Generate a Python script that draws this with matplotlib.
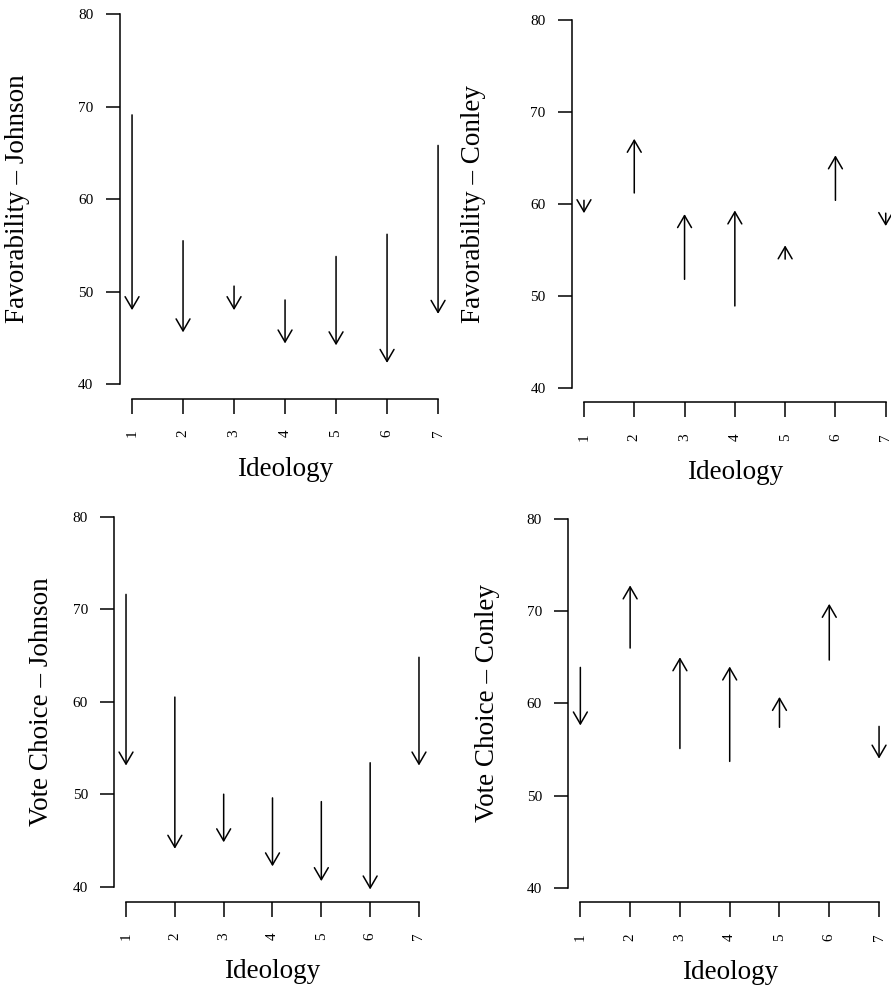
import numpy as np
import matplotlib.pyplot as plt

# ideology scale
ideology = [1, 2, 3, 4, 5, 6, 7]

# arrow start / end values per panel
fav_johnson_start = [69.1, 55.5, 50.6, 49.1, 53.8, 56.2, 65.8]
fav_johnson_end = [48.0, 45.6, 48.0, 44.4, 44.2, 42.3, 47.6]

fav_conley_start = [60.4, 61.2, 51.8, 48.9, 54.0, 60.4, 59.0]
fav_conley_end = [59.0, 67.1, 58.9, 59.3, 55.5, 65.3, 57.6]

vote_johnson_start = [71.6, 60.5, 50.0, 49.6, 49.2, 53.4, 64.8]
vote_johnson_end = [53.1, 44.1, 44.8, 42.2, 40.6, 39.7, 53.1]

vote_conley_start = [63.9, 66.0, 55.1, 53.7, 57.4, 64.7, 57.5]
vote_conley_end = [57.6, 72.8, 65.0, 64.0, 60.7, 70.8, 54.0]

ylabels = ["Favorability \u2013 Johnson", "Favorability \u2013 Conley",
           "Vote Choice \u2013 Johnson", "Vote Choice \u2013 Conley"]

plt.rcParams['font.family'] = ['Liberation Serif', 'DejaVu Serif']

W, H = 891, 990
fig = plt.figure(figsize=(W / 100, H / 100), dpi=100)

# plot regions in pixels: left, right, top, bottom
rects = [(119.8, 450.3, -0.8, 399.0),
         (571.9, 897.8, 5.6, 402.4),
         (114.3, 430.7, 501.9, 901.5),
         (568.4, 891.0, 504.3, 902.4)]
ylab_x = [18, 473, 42, 488]

panels = [(fav_johnson_start, fav_johnson_end),
          (fav_conley_start, fav_conley_end),
          (vote_johnson_start, vote_johnson_end),
          (vote_conley_start, vote_conley_end)]

for i, (start, end) in enumerate(panels):
    l, r, t, b = rects[i]
    ax = fig.add_axes([l / W, 1 - b / H, (r - l) / W, (b - t) / H])
    ax.set_xlim(0.76, 7.24)
    ax.set_ylim(38.4, 81.6)
    for x, y0, y1 in zip(ideology, start, end):
        ax.annotate("", xy=(x, y1), xytext=(x, y0),
                    arrowprops=dict(arrowstyle="->,head_length=0.86,head_width=0.5",
                                    mutation_scale=10, lw=1.1, color="black",
                                    shrinkA=0, shrinkB=0),
                    annotation_clip=False)
    for s in ["top", "right"]:
        ax.spines[s].set_visible(False)
    ax.spines["left"].set_bounds(40, 80)
    ax.spines["bottom"].set_bounds(1, 7)
    ax.spines["left"].set_linewidth(1.1)
    ax.spines["bottom"].set_linewidth(1.1)
    ax.set_yticks([40, 50, 60, 70, 80])
    ax.set_xticks(ideology)
    ax.tick_params(axis="y", length=10, width=1.1, pad=9, labelsize=11)
    ax.tick_params(axis="x", length=11, width=1.1, pad=11, labelsize=11,
                   labelrotation=90)
    ax.patch.set_visible(False)
    # axis titles
    fig.text(ylab_x[i] / W, 1 - ((t + b) / 2) / H, ylabels[i], rotation=90,
             ha="center", va="center", fontsize=19.5)
    fig.text(((l + r) / 2) / W, 1 - (b + 70) / H, "Ideology",
             ha="center", va="center", fontsize=19.5)

fig.savefig("out.png", dpi=100)
